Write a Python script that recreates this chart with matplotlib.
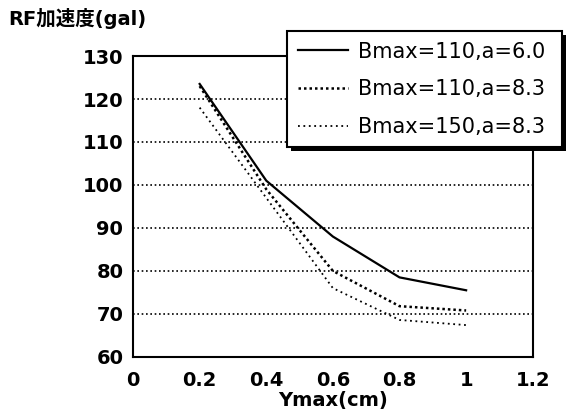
import matplotlib
matplotlib.use("Agg")
import matplotlib.pyplot as plt
from matplotlib.patches import Rectangle

plt.rcParams['font.family'] = ['DejaVu Sans', 'Noto Sans CJK JP']

# --- data ---
ymax = [0.2, 0.4, 0.6, 0.8, 1.0]
rf_110_60 = [123.5, 101.0, 88.0, 78.5, 75.5]
rf_110_83 = [123.0, 99.0, 80.0, 71.8, 70.8]
rf_150_83 = [118.0, 97.0, 76.0, 68.6, 67.4]
labels = ['Bmax=110,a=6.0', 'Bmax=110,a=8.3', 'Bmax=150,a=8.3']

fig = plt.figure(figsize=(5.71, 4.15), dpi=100)
ax = fig.add_axes([0.233, 0.140, 0.700, 0.725])

ax.plot(ymax, rf_110_60, color='black', lw=1.6, label=labels[0])
ax.plot(ymax, rf_110_83, color='black', lw=1.8, linestyle=(0, (1, 1.2)), label=labels[1])
ax.plot(ymax, rf_150_83, color='black', lw=1.3, linestyle=(0, (1, 2.0)), label=labels[2])

# dotted horizontal grid
for v in range(70, 130, 10):
    ax.axhline(v, color='black', lw=1.2, linestyle=(0, (1, 1.6)), zorder=0)

ax.set_xlim(0, 1.2)
ax.set_ylim(60, 130)
ax.set_xticks([0, 0.2, 0.4, 0.6, 0.8, 1.0, 1.2])
ax.set_xticklabels(['0', '0.2', '0.4', '0.6', '0.8', '1', '1.2'])
ax.set_yticks(range(60, 131, 10))
ax.tick_params(length=0, labelsize=14)
ax.tick_params(axis='y', pad=7)
ax.tick_params(axis='x', pad=10)
for t in ax.get_xticklabels() + ax.get_yticklabels():
    t.set_fontweight('bold')
for s in ax.spines.values():
    s.set_linewidth(1.5)

ax.set_xlabel('Ymax(cm)', fontsize=14, fontweight='bold', labelpad=1)
fig.text(0.014, 0.955, 'RF加速度(gal)', fontsize=14, fontweight='bold', ha='left', va='center')

leg = ax.legend(loc='upper left', bbox_to_anchor=(0.503, 0.636, 0.482, 0.289),
                bbox_transform=fig.transFigure, mode='expand', borderaxespad=0,
                fontsize=15, frameon=True, fancybox=False, handlelength=2.4,
                borderpad=0.5, labelspacing=0.85, handletextpad=0.5)
leg.get_frame().set_edgecolor('black')
leg.get_frame().set_linewidth(1.5)
leg.get_frame().set_alpha(1)

# heavy drop shadow under the legend box
fig.canvas.draw()
bb = leg.get_window_extent()
shadow = Rectangle((bb.x0 + 4, bb.y0 - 4), bb.width, bb.height, transform=None,
                   facecolor='black', edgecolor='none', zorder=4.9, clip_on=False)
ax.add_artist(shadow)

fig.savefig('out.png', dpi=100)
